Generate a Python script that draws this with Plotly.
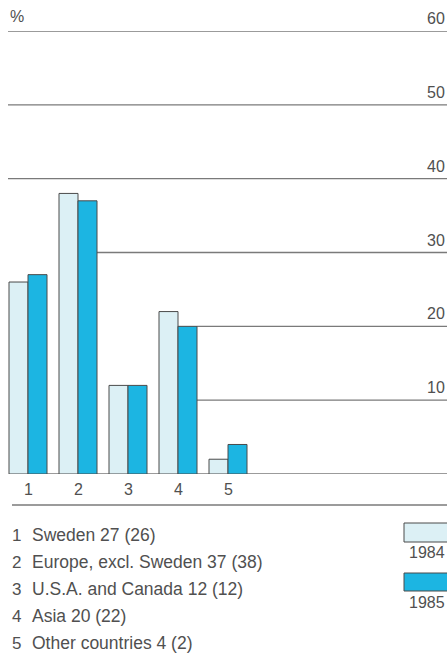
import plotly.graph_objects as go

# Sales by market, percent of total
groups = [1, 2, 3, 4, 5]
markets = ["Sweden", "Europe, excl. Sweden", "U.S.A. and Canada", "Asia", "Other countries"]
share_1984 = [26, 38, 12, 22, 2]
share_1985 = [27, 37, 12, 20, 4]
years = ["1984", "1985"]
y_ticks = [10, 20, 30, 40, 50, 60]

W, H = 447, 659
TOP, BOTTOM = 31, 474          # pixel rows of y=60 and y=0
X0_UNITS, PX_PER_UNIT = 0.44, 50.0
HALF_GROUP = 0.38

LIGHT = "#dcf0f5"
BLUE = "#1cb5e2"
EDGE = "#4a4a4a"
GRID = "#7a7a7a"
TEXT = "#505050"
FONT = "Liberation Sans, Arial, sans-serif"


def px_x(px):
    return X0_UNITS + px / PX_PER_UNIT


def paper_y(py):
    return (BOTTOM - py) / (BOTTOM - TOP)


fig = go.Figure()
fig.add_trace(go.Bar(x=groups, y=share_1984, name=years[0], marker=dict(color=LIGHT, line=dict(color=EDGE, width=1))))
fig.add_trace(go.Bar(x=groups, y=share_1985, name=years[1], marker=dict(color=BLUE, line=dict(color=EDGE, width=1))))

shapes = []
annotations = []

# Horizontal rules: each starts to the right of the last group reaching above it
for level in y_ticks:
    start = px_x(8)
    for g, a, b in zip(groups, share_1984, share_1985):
        if max(a, b) > level:
            start = g + HALF_GROUP
    shapes.append(dict(type="line", xref="x", yref="y", x0=start, x1=px_x(W), y0=level, y1=level,
                       line=dict(color=GRID, width=1.3), layer="below"))
    annotations.append(dict(xref="paper", yref="y", x=1.0, y=level, text=str(level), showarrow=False,
                            xanchor="right", yanchor="bottom", yshift=2,
                            font=dict(size=16, color=TEXT, family=FONT)))

# Baseline
shapes.append(dict(type="line", xref="x", yref="y", x0=px_x(10), x1=px_x(W), y0=0, y1=0,
                   line=dict(color=GRID, width=1.3), layer="below"))
# Separator under the group numbers
shapes.append(dict(type="line", xref="x", yref="paper", x0=px_x(12), x1=px_x(W), y0=paper_y(505), y1=paper_y(505),
                   line=dict(color=GRID, width=1.3)))

annotations.append(dict(xref="paper", yref="paper", x=8 / W, y=paper_y(16), text="%", showarrow=False,
                        xanchor="left", yanchor="middle", font=dict(size=16, color=TEXT, family=FONT)))

# Group numbers under the bars
for g in groups:
    annotations.append(dict(xref="x", yref="paper", x=g, y=paper_y(490), text=str(g), showarrow=False,
                            xanchor="center", yanchor="middle", font=dict(size=16, color=TEXT, family=FONT)))

# Key to the groups
row_y = [535, 562, 589, 616, 643]
for g, name, a, b, py in zip(groups, markets, share_1984, share_1985, row_y):
    annotations.append(dict(xref="paper", yref="paper", x=10 / W, y=paper_y(py), text=str(g), showarrow=False,
                            xanchor="left", yanchor="middle", font=dict(size=17, color=TEXT, family=FONT)))
    annotations.append(dict(xref="paper", yref="paper", x=30 / W, y=paper_y(py), text=f"{name} {b} ({a})",
                            showarrow=False, xanchor="left", yanchor="middle",
                            font=dict(size=17.5, color=TEXT, family=FONT)))

# Year swatches
for year, fill, top, bot, label_y in [(years[0], LIGHT, 523, 542, 552), (years[1], BLUE, 573, 591, 602)]:
    shapes.append(dict(type="rect", xref="paper", yref="paper", x0=404 / W, x1=460 / W,
                       y0=paper_y(bot), y1=paper_y(top), fillcolor=fill, line=dict(color=EDGE, width=1)))
    annotations.append(dict(xref="paper", yref="paper", x=407 / W, y=paper_y(label_y), text=year, showarrow=False,
                            xanchor="left", yanchor="middle", font=dict(size=16, color=TEXT, family=FONT)))

fig.update_layout(
    width=W, height=H,
    margin=dict(l=0, r=0, t=TOP, b=H - BOTTOM, pad=0),
    paper_bgcolor="white", plot_bgcolor="white",
    barmode="group", bargap=0.24, bargroupgap=0,
    showlegend=False,
    xaxis=dict(range=[px_x(0), px_x(W)], showgrid=False, zeroline=False, showticklabels=False, ticks="",
               showline=False, fixedrange=True),
    yaxis=dict(range=[0, 60], showgrid=False, zeroline=False, showticklabels=False, ticks="",
               showline=False, fixedrange=True),
    shapes=shapes, annotations=annotations,
)

fig.write_html("out.html")
